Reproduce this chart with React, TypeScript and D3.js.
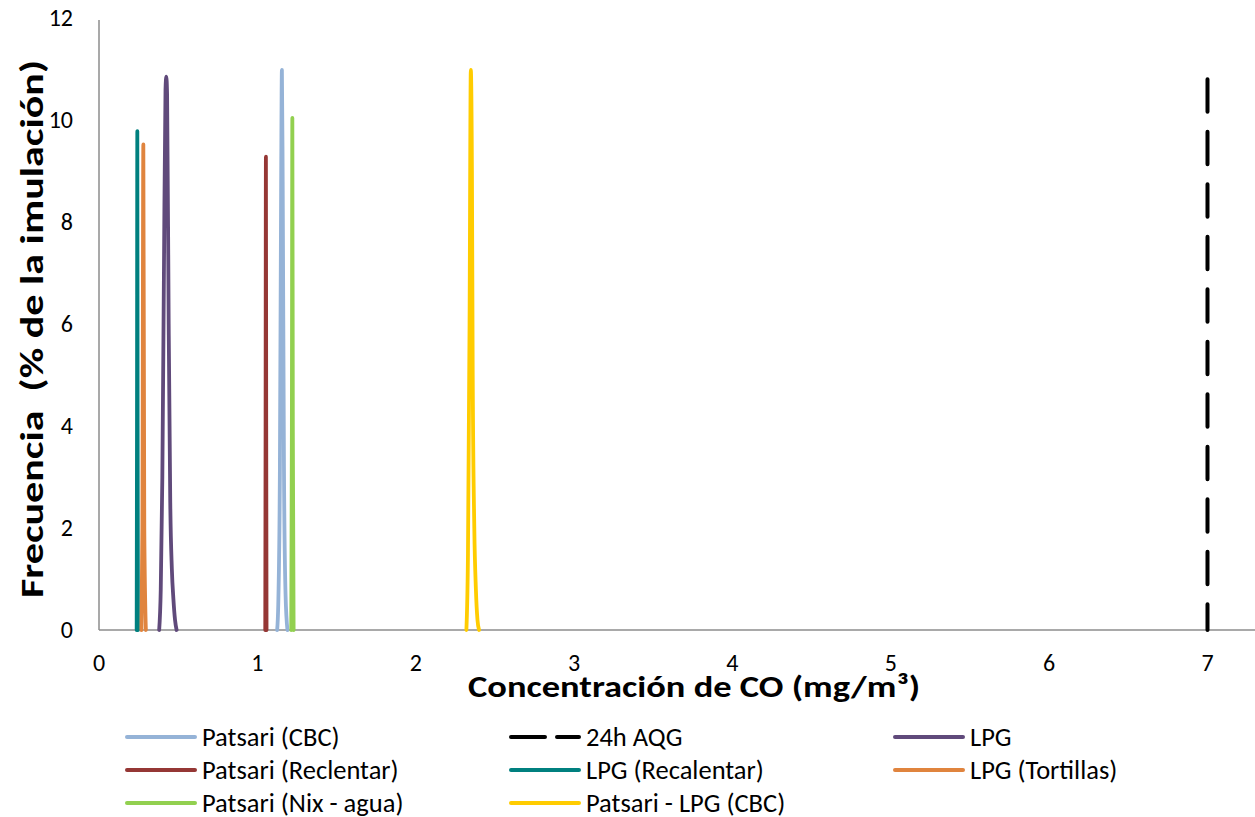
import * as d3 from 'd3';

type Pt = [number, number];

// x = CO concentration (mg/m3), y = frequency (% of simulation)
const patsariCBC: Pt[] = [
  [1.125, 0], [1.132, 0.5], [1.142, 3], [1.15, 8.6], [1.155, 10.98],
  [1.16, 8.8], [1.168, 3.2], [1.178, 0.7], [1.19, 0],
];
const aqg24h: Pt[] = [[7, 10.8], [7, 0]];
const lpg: Pt[] = [
  [0.38, 0], [0.39, 0.8], [0.40, 3], [0.41, 7], [0.42, 10.6], [0.425, 10.85],
  [0.43, 10.5], [0.44, 6], [0.45, 2.5], [0.46, 1.2], [0.47, 0.6], [0.48, 0.2], [0.49, 0],
];
const patsariReclentar: Pt[] = [[1.05, 0], [1.052, 4], [1.054, 9.28], [1.056, 4], [1.058, 0]];
const lpgRecalentar: Pt[] = [[0.238, 0], [0.24, 4], [0.242, 9.78], [0.244, 4], [0.246, 0]];
const lpgTortillas: Pt[] = [[0.268, 0], [0.274, 2], [0.28, 9.52], [0.286, 2], [0.296, 0]];
const patsariNix: Pt[] = [[1.214, 0], [1.218, 4], [1.221, 10.04], [1.224, 4], [1.229, 0]];
const patsariLpgCBC: Pt[] = [
  [2.32, 0], [2.33, 1.5], [2.34, 6], [2.348, 10.98], [2.355, 9], [2.36, 5],
  [2.37, 2], [2.38, 0.8], [2.39, 0.2], [2.40, 0],
];

const xTicks = [0, 1, 2, 3, 4, 5, 6, 7];
const yTicks = [0, 2, 4, 6, 8, 10, 12];

const series = [
  { name: 'Patsari (CBC)', data: patsariCBC, color: '#95b3d7', dash: '' },
  { name: '24h AQG', data: aqg24h, color: '#000000', dash: '32.5 20' },
  { name: 'LPG', data: lpg, color: '#604a7b', dash: '' },
  { name: 'Patsari (Reclentar)', data: patsariReclentar, color: '#953735', dash: '' },
  { name: 'LPG (Recalentar)', data: lpgRecalentar, color: '#00807f', dash: '' },
  { name: 'LPG (Tortillas)', data: lpgTortillas, color: '#e0843e', dash: '' },
  { name: 'Patsari (Nix - agua)', data: patsariNix, color: '#92d050', dash: '' },
  { name: 'Patsari - LPG (CBC)', data: patsariLpgCBC, color: '#ffcc00', dash: '' },
];

const font = "Calibri, Carlito, 'Liberation Sans Narrow', 'Liberation Sans', sans-serif";

export default function App() {
  const width = 1255;
  const height = 817;
  const x = d3.scaleLinear().domain([0, 7.3]).range([99, 1255]);
  const y = d3.scaleLinear().domain([0, 12]).range([630, 18]);
  const line = d3
    .line<Pt>()
    .x((d) => x(d[0]))
    .y((d) => y(d[1]))
    .curve(d3.curveMonotoneX);

  const legendCols = [125, 509, 893];
  const legendRows = [737, 770, 803];

  return (
    <svg
      width={width}
      height={height}
      style={{ position: 'absolute', left: 0, top: 0, background: '#fff' }}
      fontFamily={font}
    >
      <rect width={width} height={height} fill="#fff" />
      {/* axes */}
      <line x1={x(0)} x2={x(0)} y1={y(12) + 2} y2={y(0)} stroke="#8c8c8c" strokeWidth={1.5} />
      <line x1={x(0)} x2={1255} y1={y(0)} y2={y(0)} stroke="#8c8c8c" strokeWidth={1.5} />
      {yTicks.map((t) => (
        <text key={`y${t}`} x={73} y={y(t)} dy="0.35em" textAnchor="end" fontSize={24} fill="#000">
          {t}
        </text>
      ))}
      {xTicks.map((t) => (
        <text key={`x${t}`} x={x(t)} y={663} dy="0.35em" textAnchor="middle" fontSize={24} fill="#000">
          {t}
        </text>
      ))}
      {/* series */}
      {series.map((s) => (
        <path
          key={s.name}
          d={line(s.data) ?? ''}
          fill="none"
          stroke={s.color}
          strokeWidth={s.dash ? 4 : 3.8}
          strokeDasharray={s.dash || undefined}
          strokeLinecap="round"
          strokeLinejoin="round"
        />
      ))}
      {/* titles */}
      <text
        x={694}
        y={697}
        textAnchor="middle"
        fontSize={30}
        fontWeight="bold"
        textLength={452}
        lengthAdjust="spacingAndGlyphs"
      >
        Concentración de CO (mg/m³)
      </text>
      <text
        transform={`translate(43,329) rotate(-90)`}
        textAnchor="middle"
        fontSize={32}
        fontWeight="bold"
        textLength={538}
        lengthAdjust="spacingAndGlyphs"
        style={{ whiteSpace: 'pre' }}
      >
        {'Frecuencia  (% de la imulación)'}
      </text>
      {/* legend */}
      {series.map((s, i) => {
        const lx = legendCols[i % 3];
        const ly = legendRows[Math.floor(i / 3)];
        return (
          <g key={`lg${s.name}`} transform={`translate(${lx},${ly})`}>
            <line
              x1={2}
              x2={70}
              y1={0}
              y2={0}
              stroke={s.color}
              strokeWidth={4}
              strokeDasharray={s.dash ? '34 12' : undefined}
              strokeLinecap="round"
            />
            <text x={77} y={9} fontSize={26.5} fill="#000">
              {s.name}
            </text>
          </g>
        );
      })}
    </svg>
  );
}
